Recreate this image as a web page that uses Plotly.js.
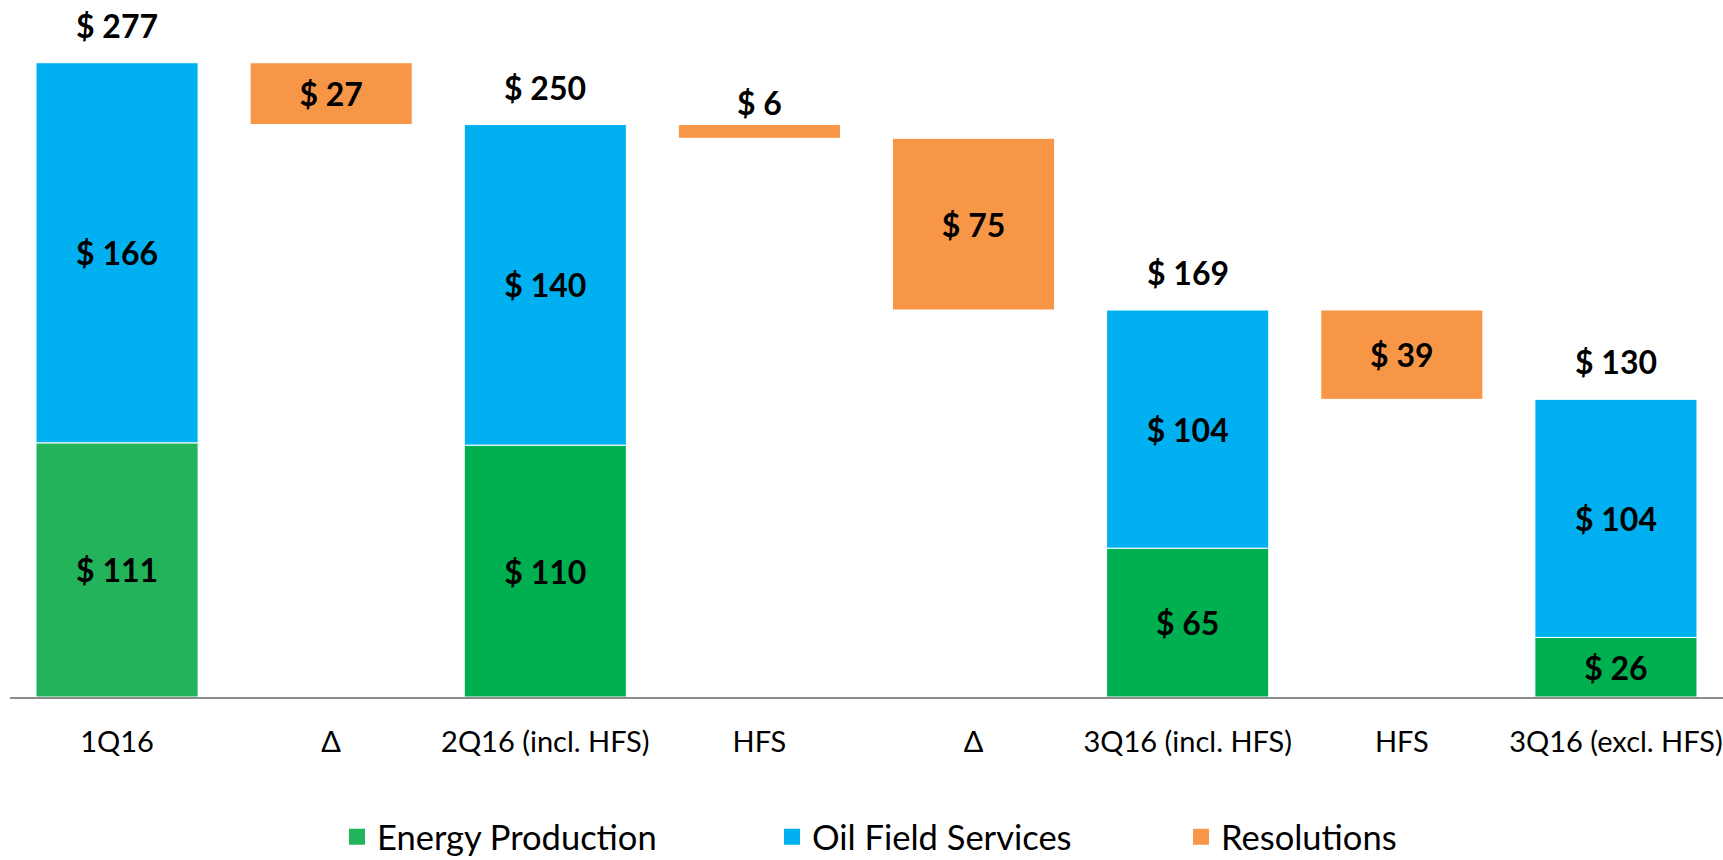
<!DOCTYPE html>
<html>
<head>
<meta charset="utf-8">
<script src="https://cdn.plot.ly/plotly-3.0.1.min.js"></script>
<style>
  html, body { margin: 0; padding: 0; background: #ffffff; }
  #chart { width: 1723px; height: 860px; }
</style>
</head>
<body>
<div id="chart"></div>
<script>
// ---- Data ----
const categories = ["1Q16", "Δ", "2Q16 (incl. HFS)", "HFS", "Δ ", "3Q16 (incl. HFS)", "HFS ", "3Q16 (excl. HFS)"];
const tickLabels = ["1Q16", "Δ", "2Q16 (incl. HFS)", "HFS", "Δ", "3Q16 (incl. HFS)", "HFS", "3Q16 (excl. HFS)"];
const energyProduction = [111, null, 110, null, null, 65, null, 26];
const oilFieldServices = [166, null, 140, null, null, 104, null, 104];
const resolutions = [null, 27, null, 6, 75, null, 39, null];
const startTotal = 277;

// ---- Derived (waterfall positions from data) ----
const oilBase = energyProduction.map(v => v);
const totals = energyProduction.map((v, i) => (v === null ? null : v + oilFieldServices[i]));
const resBase = [];
let running = startTotal;
resolutions.forEach((v, i) => {
  if (v === null) { resBase.push(null); }
  else { running -= v; resBase.push(running); }
});
const fmt = v => (v === null ? "" : "$ " + v);

const FONT = "Lato, 'Open Sans', sans-serif";
const GREEN = "#00B050", GREEN1 = "#22B35B", BLUE = "#00B0F0", ORANGE = "#F79646";
const labelFont = { family: FONT, size: 32, color: "#000000", weight: 700 };

const traces = [
  {
    type: "bar", x: categories, y: energyProduction, name: "Energy Production",
    marker: { color: categories.map((c, i) => i === 0 ? GREEN1 : GREEN), line: { color: "#ffffff", width: 1 } },
    text: energyProduction.map(fmt), textposition: "inside", insidetextanchor: "middle",
    textfont: labelFont, insidetextfont: labelFont, showlegend: false, hoverinfo: "skip", cliponaxis: false
  },
  {
    type: "bar", x: categories, y: oilFieldServices, base: oilBase, name: "Oil Field Services",
    marker: { color: BLUE, line: { color: "#ffffff", width: 1 } },
    text: oilFieldServices.map(fmt), textposition: "inside", insidetextanchor: "middle",
    textfont: labelFont, insidetextfont: labelFont, showlegend: false, hoverinfo: "skip", cliponaxis: false
  },
  {
    type: "bar", x: categories, y: resolutions, base: resBase, name: "Resolutions",
    marker: { color: ORANGE, line: { color: "#ffffff", width: 1 } },
    text: resolutions.map(fmt), textposition: "auto", insidetextanchor: "middle",
    textfont: labelFont, insidetextfont: labelFont, outsidetextfont: labelFont,
    showlegend: false, hoverinfo: "skip", cliponaxis: false
  },
  // legend entries
  { type: "scatter", mode: "markers", x: [null], y: [null], name: "Energy Production",
    marker: { symbol: "square", size: 22, color: GREEN1 }, legend: "legend", hoverinfo: "skip" },
  { type: "scatter", mode: "markers", x: [null], y: [null], name: "Oil Field Services",
    marker: { symbol: "square", size: 22, color: BLUE }, legend: "legend2", hoverinfo: "skip" },
  { type: "scatter", mode: "markers", x: [null], y: [null], name: "Resolutions",
    marker: { symbol: "square", size: 22, color: ORANGE }, legend: "legend3", hoverinfo: "skip" }
];

const annotations = totals.map((t, i) => t === null ? null : ({
  x: categories[i], y: t, xref: "x", yref: "y", text: fmt(t), showarrow: false,
  yanchor: "bottom", yshift: 16, font: labelFont
})).filter(a => a !== null);

const legendFont = { family: FONT, size: 34.5, color: "#000000" };
const legendCommon = { xref: "container", yref: "container", xanchor: "left", yanchor: "middle",
  orientation: "h", font: legendFont, bgcolor: "rgba(0,0,0,0)", borderwidth: 0, itemwidth: 30, y: 0.027 };

const layout = {
  width: 1723, height: 860,
  margin: { l: 10, r: 0, t: 0, b: 163 },
  paper_bgcolor: "#ffffff", plot_bgcolor: "#ffffff",
  barmode: "overlay", bargap: 0.243,
  font: { family: FONT, color: "#000000" },
  xaxis: {
    type: "category", categoryorder: "array", categoryarray: categories,
    tickvals: categories, ticktext: tickLabels,
    showline: true, linecolor: "#8C8C8C", linewidth: 2, showgrid: false, zeroline: false,
    ticks: "", tickfont: { family: FONT, size: 29, color: "#000000" }, ticklabelstandoff: 18,
    fixedrange: true
  },
  yaxis: { range: [0, 304.4], visible: false, showgrid: false, zeroline: false, fixedrange: true },
  annotations: annotations,
  showlegend: true,
  legend: Object.assign({}, legendCommon, { x: 337 / 1723 }),
  legend2: Object.assign({}, legendCommon, { x: 772 / 1723 }),
  legend3: Object.assign({}, legendCommon, { x: 1181 / 1723 })
};

Plotly.newPlot("chart", traces, layout, { displayModeBar: false, staticPlot: true });
</script>
</body>
</html>
